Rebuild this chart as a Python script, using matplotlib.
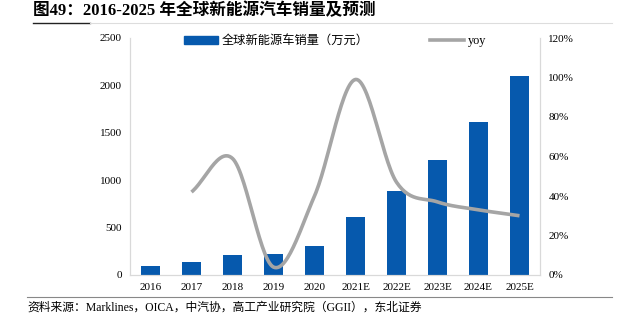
import numpy as np
import matplotlib.pyplot as plt
from matplotlib.lines import Line2D
from matplotlib.patches import Patch

years = ['2016', '2017', '2018', '2019', '2020', '2021E', '2022E', '2023E', '2024E', '2025E']
sales = [98, 134, 211, 221, 306, 609, 890, 1210, 1611, 2096]
yoy_years = years[1:]
yoy = [42, 59, 4, 40, 99, 47, 37, 33, 30]

fonts = ['Liberation Serif', 'Noto Sans CJK SC']
plt.rcParams['font.family'] = fonts

bar_color = '#0659AD'
line_color = '#A5A5A5'


def smooth(xs, ys, n=30):
    # catmull-rom, close to the smoothed line excel draws
    xs = np.asarray(xs, float)
    ys = np.asarray(ys, float)
    px = np.concatenate([[2 * xs[0] - xs[1]], xs, [2 * xs[-1] - xs[-2]]])
    py = np.concatenate([[2 * ys[0] - ys[1]], ys, [2 * ys[-1] - ys[-2]]])
    ox, oy = [], []
    for i in range(1, len(px) - 2):
        t = np.linspace(0, 1, n)
        for arr, out in ((px, ox), (py, oy)):
            p0, p1, p2, p3 = arr[i - 1], arr[i], arr[i + 1], arr[i + 2]
            out.extend(0.5 * ((2 * p1) + (-p0 + p2) * t
                              + (2 * p0 - 5 * p1 + 4 * p2 - p3) * t ** 2
                              + (-p0 + 3 * p1 - 3 * p2 + p3) * t ** 3))
    return np.array(ox), np.array(oy)


fig = plt.figure(figsize=(6.39, 3.31), dpi=100)
ax = fig.add_axes([130 / 639, 1 - 275 / 331, 410 / 639, 237 / 331])
x = np.arange(len(years))
ax.bar(x, sales, width=0.45, color=bar_color, zorder=2)
ax.set_xlim(-0.5, len(years) - 0.5)
ax.set_ylim(0, 2500)
ax.set_yticks(range(0, 2501, 500))
ax.set_xticks(x)
ax.set_xticklabels(years)
ax.tick_params(labelsize=8, length=0, pad=6)

ax2 = ax.twinx()
xi = x[1:]
sx, sy = smooth(xi, yoy)
ax2.plot(sx, sy, color=line_color, lw=2.6, solid_capstyle='butt', zorder=3)
ax2.set_ylim(0, 120)
ax2.set_yticks(range(0, 121, 20))
ax2.set_yticklabels([f'{v}%' for v in range(0, 121, 20)])
ax2.tick_params(labelsize=8, length=0, pad=6)

for a in (ax, ax2):
    a.spines['top'].set_visible(False)
    a.spines['left'].set_color('#D9D9D9')
    a.spines['right'].set_color('#D9D9D9')
    a.spines['bottom'].set_color('#D9D9D9')

handles = [Patch(color=bar_color), Line2D([], [], color=line_color, lw=2.6)]
fig.legend(handles, ['全球新能源车销量（万元）', 'yoy'], loc='center',
           bbox_to_anchor=(335 / 639, 1 - 41 / 331), ncol=2, frameon=False,
           fontsize=8.8, handlelength=2.8, handleheight=0.6, columnspacing=5,
           handletextpad=0.3)

fig.text(33 / 639, 1 - 11 / 331, '图49：2016-2025 年全球新能源汽车销量及预测',
         fontsize=12, fontweight='bold', va='center', ha='left')
fig.add_artist(Line2D([33 / 639, 90 / 639], [1 - 23 / 331] * 2, color='#222222', lw=1))
fig.add_artist(Line2D([90 / 639, 612 / 639], [1 - 23 / 331] * 2, color='#DDDDDD', lw=0.8))
fig.add_artist(Line2D([27 / 639, 612 / 639], [1 - 297 / 331] * 2, color='#888888', lw=0.8))
fig.text(27 / 639, 1 - 308 / 331,
         '资料来源：Marklines，OICA，中汽协，高工产业研究院（GGII），东北证券',
         fontsize=8.5, va='center', ha='left')

fig.savefig('out.png', dpi=100)
